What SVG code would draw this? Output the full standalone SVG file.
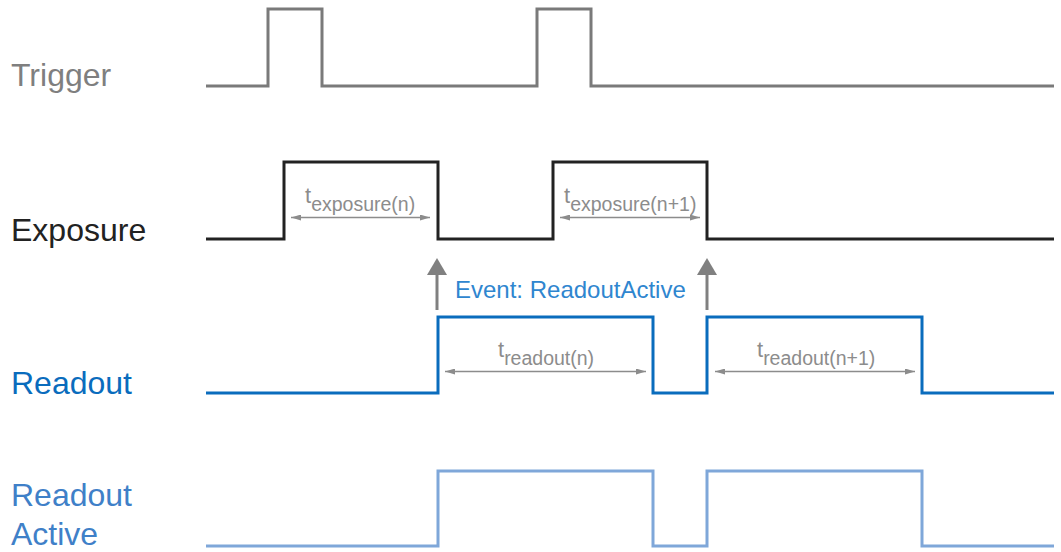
<svg xmlns="http://www.w3.org/2000/svg" width="1061" height="552" viewBox="0 0 1061 552">
<style>
.lbl{font-family:"Liberation Sans",Arial,sans-serif;font-size:32px}
.wave{fill:none;stroke-width:3;stroke-linejoin:miter;stroke-linecap:butt}
.dim{stroke:#8c8c8c;stroke-width:1.5;fill:none;marker-start:url(#ah);marker-end:url(#ah)}
.tt{font-family:"Liberation Sans",Arial,sans-serif;font-size:22px;fill:#8c8c8c}
.sub{font-size:19.5px}
.evt{stroke:#808080;stroke-width:3;fill:none}
</style>
<defs>
<marker id="ah" markerWidth="10" markerHeight="6" refX="10" refY="3" orient="auto-start-reverse" markerUnits="userSpaceOnUse">
<path d="M0,0 L10,3 L0,6 Z" fill="#8c8c8c"/>
</marker>
</defs>
<g id="trigger">
<text class="lbl" x="11" y="86" fill="#7f7f7f">Trigger</text>
<path class="wave" stroke="#7a7a7a" d="M206,86 H268 V9 H322 V86 H537 V9 H591 V86 H1054"/>
</g>
<g id="exposure">
<text class="lbl" x="11" y="241" fill="#222222">Exposure</text>
<path class="wave" stroke="#222222" d="M206,239 H284 V162 H438 V239 H553 V162 H707 V239 H1054"/>
<line class="dim" x1="291" y1="217.5" x2="430" y2="217.5"/>
<line class="dim" x1="560" y1="217.5" x2="700" y2="217.5"/>
<text class="tt" x="305" y="203">t<tspan class="sub" dy="8">exposure(n)</tspan></text>
<text class="tt" x="564" y="203">t<tspan class="sub" dy="8">exposure(n+1)</tspan></text>
</g>
<g id="readout">
<text class="lbl" x="11" y="394" fill="#0a6cbd">Readout</text>
<path class="wave" stroke="#0a6cbd" d="M206,393 H438 V317 H653 V393 H707 V317 H922 V393 H1054"/>
<line class="dim" x1="445" y1="371.5" x2="646" y2="371.5"/>
<line class="dim" x1="715" y1="371.5" x2="915" y2="371.5"/>
<text class="tt" x="498" y="357">t<tspan class="sub" dy="8">readout(n)</tspan></text>
<text class="tt" x="757" y="357">t<tspan class="sub" dy="8">readout(n+1)</tspan></text>
</g>
<g id="readout-active">
<text class="lbl" x="11" y="506" fill="#3f80c8">Readout</text>
<text class="lbl" x="11" y="545" fill="#3f80c8">Active</text>
<path class="wave" stroke="#7fa7d9" d="M206,546 H438 V471 H653 V546 H707 V471 H922 V546 H1054"/>
</g>
<g id="connectors">
<line class="evt" x1="437" y1="310" x2="437" y2="272"/>
<path d="M427,275 L447,275 L437,258 Z" fill="#808080"/>
<line class="evt" x1="707" y1="310" x2="707" y2="272"/>
<path d="M697,275 L717,275 L707,258 Z" fill="#808080"/>
</g>
<g id="event-label">
<text x="455" y="298" font-family="Liberation Sans, Arial, sans-serif" font-size="24" fill="#2f86cf">Event: ReadoutActive</text>
</g>
</svg>
